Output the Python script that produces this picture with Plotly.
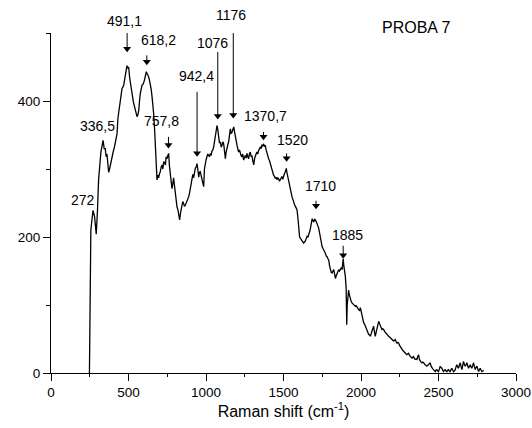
import numpy as np
import plotly.graph_objects as go

# Raman spectrum of sample 7 (shift in cm-1, intensity in counts)
raman_shift = [
    248, 257, 264, 271, 281, 292, 300, 307, 322, 336, 343, 350, 356, 361, 366, 372, 378, 386, 393, 401,
    409, 417, 426, 432, 440, 447, 458, 469, 480, 490, 496, 501, 507, 515, 523, 532, 540, 548, 555, 561,
    566, 571, 576, 587, 595, 602, 609, 615, 620, 626, 634, 641, 646, 652, 657, 662, 668, 673, 679, 684,
    690, 694, 700, 705, 711, 716, 722, 727, 733, 738, 743, 748, 754, 759, 764, 770, 776, 781, 786, 791,
    797, 802, 808, 813, 819, 824, 830, 836, 840, 845, 850, 856, 861, 867, 872, 878, 883, 888, 894, 899,
    905, 910, 915, 920, 926, 931, 937, 942, 947, 953, 958, 963, 969, 974, 980, 985, 990, 996, 1001, 1006,
    1011, 1017, 1022, 1028, 1033, 1038, 1044, 1049, 1055, 1060, 1066, 1071, 1076, 1081, 1087, 1093, 1098, 1103, 1109, 1114,
    1120, 1125, 1130, 1135, 1141, 1146, 1152, 1157, 1162, 1168, 1173, 1179, 1184, 1189, 1195, 1200, 1205, 1210, 1216, 1221,
    1226, 1232, 1237, 1243, 1248, 1253, 1259, 1264, 1270, 1275, 1280, 1286, 1291, 1296, 1302, 1308, 1313, 1318, 1323, 1329,
    1334, 1339, 1345, 1350, 1356, 1361, 1366, 1372, 1377, 1382, 1388, 1393, 1399, 1404, 1410, 1415, 1420, 1426, 1431, 1436,
    1442, 1447, 1452, 1458, 1463, 1468, 1474, 1479, 1485, 1490, 1495, 1501, 1506, 1512, 1518, 1522, 1527, 1533, 1539, 1545,
    1550, 1555, 1561, 1566, 1572, 1577, 1582, 1587, 1593, 1598, 1604, 1609, 1614, 1620, 1625, 1630, 1636, 1641, 1647, 1652,
    1658, 1663, 1669, 1674, 1680, 1685, 1690, 1695, 1701, 1706, 1712, 1717, 1722, 1727, 1733, 1738, 1744, 1749, 1755, 1760,
    1765, 1770, 1776, 1781, 1787, 1792, 1797, 1803, 1808, 1813, 1819, 1824, 1830, 1835, 1840, 1846, 1851, 1856, 1862, 1867,
    1873, 1878, 1885, 1889, 1893, 1899, 1904, 1908, 1911, 1914, 1920, 1925, 1931, 1936, 1942, 1947, 1953, 1958, 1964, 1969,
    1974, 1980, 1985, 1991, 1996, 2001, 2007, 2012, 2017, 2023, 2028, 2033, 2039, 2044, 2049, 2055, 2060, 2066, 2071, 2076,
    2081, 2087, 2092, 2098, 2103, 2108, 2114, 2119, 2125, 2130, 2135, 2141, 2146, 2152, 2157, 2163, 2168, 2173, 2178, 2184,
    2189, 2195, 2200, 2205, 2211, 2216, 2221, 2227, 2232, 2238, 2243, 2248, 2253, 2259, 2264, 2270, 2275, 2281, 2286, 2291,
    2296, 2302, 2307, 2313, 2318, 2324, 2329, 2334, 2339, 2345, 2350, 2356, 2361, 2366, 2371, 2377, 2382, 2388, 2393, 2398,
    2404, 2409, 2414, 2420, 2425, 2430, 2436, 2441, 2447, 2452, 2457, 2463, 2468, 2474, 2479, 2484, 2490, 2495, 2500, 2506,
    2511, 2516, 2522, 2527, 2533, 2538, 2543, 2549, 2554, 2559, 2565, 2570, 2575, 2581, 2586, 2592, 2597, 2602, 2608, 2613,
    2618, 2624, 2629, 2634, 2640, 2645, 2651, 2656, 2661, 2667, 2672, 2678, 2683, 2688, 2694, 2699, 2705, 2710, 2715, 2721,
    2726, 2731, 2737, 2742, 2748, 2753, 2759, 2764, 2769, 2775, 2780, 2786, 2791,
]
intensity = [
    0, 210, 225, 239, 230, 204, 240, 284, 325, 342, 330, 330, 318, 322, 310, 295, 300, 310, 313, 325,
    332, 345, 352, 375, 390, 401, 418, 423, 438, 452, 448, 450, 435, 420, 411, 398, 391, 382, 377, 380,
    386, 400, 411, 423, 425, 430, 436, 443, 440, 438, 432, 425, 418, 406, 395, 382, 360, 330, 303, 284,
    291, 287, 293, 296, 303, 306, 300, 311, 309, 306, 318, 315, 320, 323, 305, 288, 280, 271, 283, 287,
    275, 264, 255, 244, 240, 235, 225, 236, 240, 244, 252, 249, 245, 247, 250, 252, 256, 259, 265, 271,
    280, 284, 292, 287, 296, 301, 303, 308, 300, 288, 295, 296, 290, 284, 278, 274, 300, 310, 314, 318,
    322, 320, 318, 323, 320, 326, 328, 332, 340, 347, 356, 364, 358, 347, 338, 340, 332, 335, 340, 337,
    325, 315, 325, 332, 336, 340, 350, 359, 352, 354, 358, 362, 355, 347, 340, 335, 330, 325, 328, 323,
    320, 318, 322, 313, 318, 320, 316, 323, 318, 315, 322, 325, 318, 320, 312, 306, 315, 320, 322, 325,
    322, 327, 330, 332, 330, 335, 334, 337, 333, 335, 328, 323, 318, 315, 312, 308, 302, 298, 294, 291,
    289, 286, 288, 284, 287, 286, 282, 284, 287, 289, 285, 291, 293, 296, 301, 295, 289, 282, 277, 269,
    263, 259, 255, 250, 247, 245, 242, 240, 228, 210, 200, 198, 196, 194, 192, 191, 193, 194, 198, 201,
    200, 203, 208, 213, 220, 227, 224, 222, 226, 225, 222, 220, 216, 213, 205, 198, 190, 186, 183, 181,
    178, 176, 172, 171, 168, 166, 158, 152, 148, 147, 150, 152, 145, 139, 143, 147, 150, 152, 150, 154,
    155, 152, 168, 158, 152, 142, 125, 71, 100, 112, 122, 115, 108, 106, 103, 102, 101, 100, 98, 99,
    96, 95, 93, 92, 96, 90, 83, 78, 74, 72, 69, 65, 62, 60, 57, 56, 54, 58, 62, 66,
    69, 60, 54, 60, 66, 70, 76, 73, 69, 66, 64, 65, 64, 61, 59, 58, 57, 55, 54, 53,
    52, 50, 49, 48, 47, 48, 49, 46, 44, 45, 44, 41, 39, 36, 34, 33, 32, 30, 29, 28,
    27, 28, 29, 26, 24, 23, 22, 23, 24, 21, 20, 21, 20, 24, 27, 20, 17, 16, 15, 16,
    15, 13, 12, 11, 10, 11, 12, 14, 15, 10, 7, 6, 5, 3, 2, 4, 5, 3, 2, 6,
    10, 8, 7, 4, 2, 4, 5, 3, 2, 4, 5, 3, 2, 5, 7, 4, 2, 3, 5, 9,
    12, 9, 7, 11, 15, 10, 5, 11, 17, 13, 10, 12, 15, 11, 7, 10, 12, 9, 7, 11,
    15, 10, 5, 8, 10, 6, 2, 5, 7, 4, 2, 3, 4,
]

# Marked bands: label text and band position (cm-1)
peak_labels = ["272", "336,5", "491,1", "618,2", "757,8", "942,4", "1076", "1176",
               "1370,7", "1520", "1710", "1885"]
peak_positions = [272, 336.5, 491.1, 618.2, 757.8, 942.4, 1076, 1176,
                  1370.7, 1520, 1710, 1885]

# Per-label layout in pixels: (arrow length, gap above curve, text x shift, text y shift);
# arrow length 0 means the band is labelled without an arrow
label_layout = {
    "272":    (0,     0.0, -10.0, 10.4),
    "336,5":  (0,     0.0,  -5.5, 14.2),
    "491,1":  (20.0, 13.3,  -2.3, 44.6),
    "618,2":  (10.0,  6.4,  11.5, 31.4),
    "757,8":  (11.6,  4.9,  -7.1, 32.5),
    "942,4":  (65.0,  6.7,  -1.0, 87.4),
    "1076":   (67.6,  5.9,  -4.9, 82.5),
    "1176":   (93.3,  8.3,  -1.9, 111.6),
    "1370,7": (8.3,   3.6,   2.4, 27.6),
    "1520":   (8.4,   6.5,   5.6, 28.2),
    "1710":   (8.6,  10.0,   4.4, 33.3),
    "1885":   (13.0,  0.0,   4.8, 23.8),
}

FONT = "Liberation Sans, Arial, sans-serif"
Y_RANGE = [0, 500]
PLOT_H = 428 - 33 - 55
PX_PER_UNIT = PLOT_H / (Y_RANGE[1] - Y_RANGE[0])
HEAD = 7  # arrowhead marker size, px

x_arr = np.array(raman_shift, dtype=float)
y_arr = np.array(intensity, dtype=float)

fig = go.Figure()
fig.add_trace(go.Scatter(
    x=raman_shift, y=intensity, mode="lines",
    line=dict(color="black", width=1.3), showlegend=False, hoverinfo="x+y",
))

shaft_x, shaft_y, head_x, head_y = [], [], [], []
annotations = []
for text, pos in zip(peak_labels, peak_positions):
    length, gap, dx, dy = label_layout[text]
    window = (x_arr >= pos - 12) & (x_arr <= pos + 12)
    top = float(y_arr[window].max())
    if length > 0:
        tip = top + gap / PX_PER_UNIT
        head_c = tip + (HEAD / 2) / PX_PER_UNIT
        tail = tip + length / PX_PER_UNIT
        shaft_x += [pos, pos, None]
        shaft_y += [tail, head_c, None]
        head_x.append(pos)
        head_y.append(head_c)
    annotations.append(dict(
        x=pos, y=top, xref="x", yref="y", text=text, showarrow=False,
        xshift=dx, yshift=dy, xanchor="center", yanchor="middle",
        font=dict(family=FONT, size=14, color="black"),
    ))

fig.add_trace(go.Scatter(
    x=shaft_x, y=shaft_y, mode="lines", line=dict(color="black", width=1),
    showlegend=False, hoverinfo="skip", cliponaxis=False,
))
fig.add_trace(go.Scatter(
    x=head_x, y=head_y, mode="markers",
    marker=dict(symbol="triangle-down", size=HEAD, color="black",
                line=dict(width=0)),
    showlegend=False, hoverinfo="skip", cliponaxis=False,
))

annotations.append(dict(
    x=0.785, y=1.015, xref="paper", yref="paper", text="PROBA 7",
    showarrow=False, xanchor="center", yanchor="middle",
    font=dict(family=FONT, size=16, color="black"),
))

axis_common = dict(
    showline=True, linecolor="black", linewidth=1, mirror=False,
    showgrid=False, zeroline=False, ticks="outside", ticklen=7,
    tickwidth=1, tickcolor="black", automargin=False,
    tickfont=dict(family=FONT, size=13.5, color="black"),
)

fig.update_layout(
    width=532, height=428,
    margin=dict(l=51, r=16, t=33, b=55),
    paper_bgcolor="white", plot_bgcolor="white",
    font=dict(family=FONT, color="black"),
    xaxis=dict(
        range=[0, 3000], tick0=0, dtick=500,
        minor=dict(dtick=250, ticks="outside", ticklen=3, tickcolor="black", showgrid=False),
        title=dict(text="Raman shift (cm<sup>-1</sup>)", standoff=6,
                   font=dict(family=FONT, size=16, color="black")),
        **axis_common,
    ),
    yaxis=dict(
        range=Y_RANGE, tick0=0, dtick=200,
        minor=dict(dtick=100, ticks="outside", ticklen=4, tickcolor="black", showgrid=False),
        **axis_common,
    ),
    annotations=annotations,
)

fig.write_html("out.html")
